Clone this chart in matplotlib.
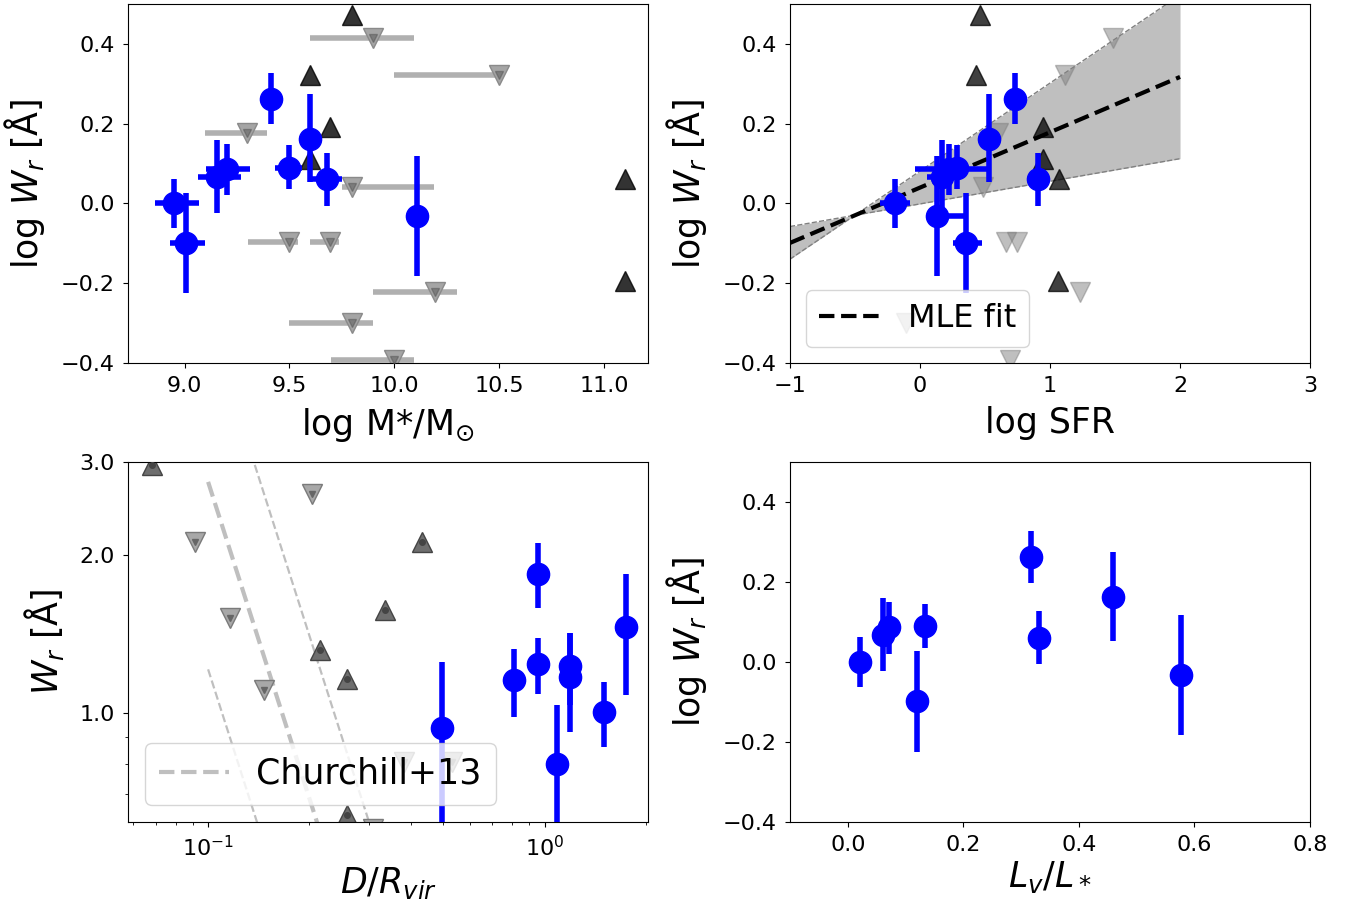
import numpy as np
import matplotlib.pyplot as plt
from matplotlib.ticker import FixedLocator, FixedFormatter, NullFormatter

# detections (same 9 absorbers in every panel)
logw = [0.0, -0.098, 0.067, 0.0875, 0.2625, 0.09, 0.1625, 0.06, -0.032]
logw_lo = [0.0625, 0.127, 0.09, 0.0665, 0.0645, 0.055, 0.11, 0.066, 0.15]
logw_hi = [0.0625, 0.125, 0.093, 0.0625, 0.0645, 0.056, 0.1125, 0.067, 0.15]

logmstar = [8.948, 9.005, 9.155, 9.204, 9.41, 9.497, 9.598, 9.68, 10.108]
mstar_lo = [0.09, 0.075, 0.093, 0.10, 0.0, 0.068, 0.0, 0.072, 0.0]
mstar_hi = [0.12, 0.093, 0.114, 0.106, 0.0, 0.065, 0.0, 0.07, 0.0]

logsfr = [-0.19, 0.355, 0.17, 0.22, 0.73, 0.285, 0.53, 0.91, 0.13]
sfr_lo = [0.12, 0.1, 0.12, 0.26, 0.0, 0.04, 0.0, 0.0, 0.05]
sfr_hi = [0.11, 0.12, 0.08, 0.3, 0.0, 0.04, 0.0, 0.0, 0.22]

d_rvir = [1.501, 1.086, 1.19, 1.19, 0.955, 0.955, 1.741, 0.81, 0.494]
w_r = [1.004, 0.799, 1.168, 1.227, 1.841, 1.238, 1.457, 1.154, 0.934]
w_r_err = [0.143, 0.235, 0.25, 0.19, 0.26, 0.15, 0.378, 0.17, 0.316]

lv_lstar = [0.021, 0.12, 0.0615, 0.0716, 0.317, 0.134, 0.4585, 0.331, 0.576]

# upper limits (down triangles)
ul_logw = [0.415, 0.323, 0.177, -0.096, -0.096, 0.042, -0.2225, -0.30, -0.393]
ul_mstar = [9.896, 10.5, 9.298, 9.5, 9.693, 9.8, 10.193, 9.8, 10.0]
ul_mstar_lo = [0.296, 0.5, 0.2, 0.2, 0.093, 0.05, 0.293, 0.3, 0.3]
ul_mstar_hi = [0.2, 0.02, 0.096, 0.04, 0.044, 0.39, 0.107, 0.1, 0.095]
ul_sfr = [1.487, 1.116, 0.598, 0.664, 0.744, 0.486, 1.23, -0.106, 0.69]

# lower limits (up triangles)
ll_logw = [0.473, 0.323, 0.192, 0.1125, 0.061, -0.194]
ll_mstar = [9.8, 9.598, 9.693, 9.6, 11.098, 11.1]
ll_sfr = [0.465, 0.433, 0.943, 0.943, 1.07, 1.062]

# D/Rvir panel limits
bl_up_d = [0.068, 0.4315, 0.336, 0.215, 0.258, 0.258]
bl_up_w = [2.96, 2.114, 1.567, 1.316, 1.162, 0.639]
bl_dn_d = [0.204, 0.0913, 0.116, 0.1466, 0.381, 0.531, 0.31]
bl_dn_w = [2.61, 2.11, 1.512, 1.105, 0.807, 0.807, 0.60]

# MLE fit and its band (intercept, slope)
mle_fit = (0.0397, 0.1387)
band_steep = (0.081, 0.2207)
band_shallow = (-0.0012, 0.0567)
fit_range = (-1.0, 2.0)

# Churchill+13 relation, W at D/Rvir = 0.1 and 1
churchill_d = [0.1, 1.0]
churchill_mid = [2.75, 0.0275]
churchill_up = [5.61, 0.0561]
churchill_dn = [1.21, 0.0121]

plt.rcParams['font.family'] = 'DejaVu Sans'
plt.rcParams['mathtext.fontset'] = 'dejavusans'

fig = plt.figure(figsize=(13.56, 9.05), dpi=100)
ax1 = fig.add_axes([0.0944, 0.5989, 0.3835, 0.3967])
ax2 = fig.add_axes([0.5826, 0.5989, 0.3835, 0.3967])
ax3 = fig.add_axes([0.0944, 0.0917, 0.3835, 0.3978])
ax4 = fig.add_axes([0.5826, 0.0917, 0.3835, 0.3978])

blue = dict(fmt='o', color='blue', ms=16, elinewidth=4, capsize=0, zorder=5)
ylab = r'log $W_r$ [$\mathrm{\AA}$]'
lab_fs = 25
tick_fs = 16

# ---- log M* panel
ax1.errorbar(ul_mstar, ul_logw, xerr=[ul_mstar_lo, ul_mstar_hi], fmt='v', ms=14,
             mfc='#a5a5a5', mec='#8a8a8a', ecolor='#b0b0b0', elinewidth=4, capsize=0, zorder=2)
ax1.plot(ul_mstar, ul_logw, 'v', color='#555555', alpha=0.5, ms=6, zorder=3)
ax1.plot(ll_mstar, ll_logw, '^', color='k', alpha=0.8, ms=14, zorder=3)
ax1.errorbar(logmstar, logw, xerr=[mstar_lo, mstar_hi], yerr=[logw_lo, logw_hi], **blue)
ax1.set_xlim(8.73, 11.21)
ax1.set_ylim(-0.4, 0.5)
ax1.set_xticks([9.0, 9.5, 10.0, 10.5, 11.0])
ax1.set_yticks([-0.4, -0.2, 0.0, 0.2, 0.4])
ax1.set_xlabel(r'log M*/M$_{\odot}$', fontsize=lab_fs, labelpad=7)
ax1.set_ylabel(ylab, fontsize=lab_fs, labelpad=10)

# ---- log SFR panel
xs = np.linspace(fit_range[0], fit_range[1], 100)
steep = band_steep[0] + band_steep[1] * xs
shallow = band_shallow[0] + band_shallow[1] * xs
ax2.fill_between(xs, steep, shallow, color='gray', alpha=0.5, lw=0, zorder=1)
ax2.plot(xs, steep, '--', color='gray', lw=1, zorder=1)
ax2.plot(xs, shallow, '--', color='gray', lw=1, zorder=1)
ax2.plot(xs, mle_fit[0] + mle_fit[1] * xs, '--', color='k', lw=3, zorder=4, label='MLE fit')
ax2.plot(ul_sfr, ul_logw, 'v', color='gray', alpha=0.5, ms=14, zorder=2)
ax2.plot(ll_sfr, ll_logw, '^', color='k', alpha=0.75, ms=14, zorder=3)
ax2.errorbar(logsfr, logw, xerr=[sfr_lo, sfr_hi], yerr=[logw_lo, logw_hi], **blue)
ax2.set_xlim(-1, 3)
ax2.set_ylim(-0.4, 0.5)
ax2.set_xticks([-1, 0, 1, 2, 3])
ax2.set_yticks([-0.4, -0.2, 0.0, 0.2, 0.4])
ax2.set_xlabel('log SFR', fontsize=lab_fs, labelpad=7)
ax2.set_ylabel(ylab, fontsize=lab_fs, labelpad=10)
ax2.legend(loc='lower left', fontsize=23)

# ---- D/Rvir panel
ax3.set_xscale('log')
ax3.set_yscale('log')
ax3.plot(churchill_d, churchill_mid, '--', color='gray', alpha=0.5, lw=3, label='Churchill+13')
ax3.plot(churchill_d, churchill_up, '--', color='gray', alpha=0.5, lw=1.6)
ax3.plot(churchill_d, churchill_dn, '--', color='gray', alpha=0.5, lw=1.6)
ax3.plot(bl_dn_d, bl_dn_w, 'v', ms=14, mfc='#a8a8a8', mec='#7a7a7a', zorder=2)
ax3.plot(bl_dn_d, bl_dn_w, 'v', ms=5, color='#666666', zorder=3)
ax3.plot(bl_up_d, bl_up_w, '^', ms=14, mfc='#6e6e6e', mec='#444444', zorder=2)
ax3.plot(bl_up_d, bl_up_w, 'o', ms=4, color='#444444', zorder=3)
ax3.errorbar(d_rvir, w_r, yerr=w_r_err, **blue)
ax3.set_xlim(0.0578, 2.03)
ax3.set_ylim(0.62, 3.0)
ax3.yaxis.set_major_locator(FixedLocator([1.0, 2.0, 3.0]))
ax3.yaxis.set_major_formatter(FixedFormatter(['1.0', '2.0', '3.0']))
ax3.yaxis.set_minor_formatter(NullFormatter())
ax3.xaxis.set_minor_formatter(NullFormatter())
ax3.set_xlabel(r'$D/R_{vir}$', fontsize=lab_fs, labelpad=3)
ax3.set_ylabel(r'$W_r$ [$\mathrm{\AA}$]', fontsize=lab_fs, labelpad=10)
ax3.legend(loc='lower left', fontsize=25)

# ---- Lv/L* panel
ax4.errorbar(lv_lstar, logw, yerr=[logw_lo, logw_hi], **blue)
ax4.set_xlim(-0.1, 0.8)
ax4.set_ylim(-0.4, 0.5)
ax4.set_xticks([0.0, 0.2, 0.4, 0.6, 0.8])
ax4.set_yticks([-0.4, -0.2, 0.0, 0.2, 0.4])
ax4.set_xlabel(r'$L_v/L_*$', fontsize=lab_fs, labelpad=3)
ax4.set_ylabel(ylab, fontsize=lab_fs, labelpad=10)

for ax in [ax1, ax2, ax3, ax4]:
    ax.tick_params(labelsize=tick_fs, pad=6)

fig.savefig('out.png', dpi=100)
